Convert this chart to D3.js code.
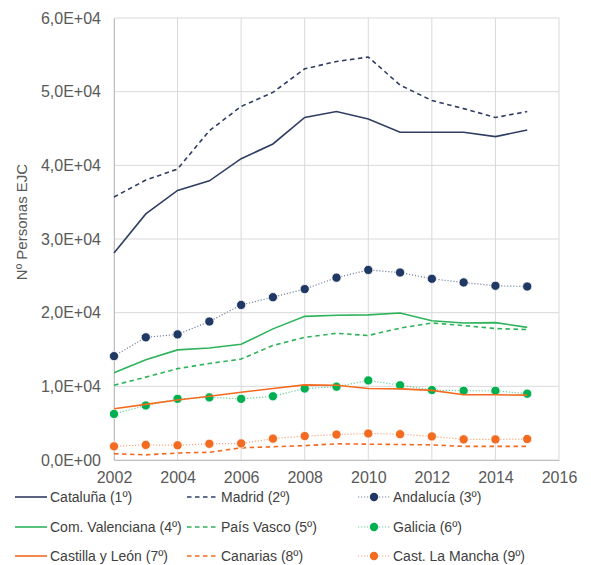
<!DOCTYPE html>
<html>
<head>
<meta charset="utf-8">
<script src="https://cdn.jsdelivr.net/npm/d3@7"></script>
<style>
  body { margin: 0; background: #fff; }
  svg { font-family: "Liberation Sans", Arial, sans-serif; }
</style>
</head>
<body>
<div id="chart"></div>
<script>
const years = [2002, 2003, 2004, 2005, 2006, 2007, 2008, 2009, 2010, 2011, 2012, 2013, 2014, 2015];
const xTicks = [2002, 2004, 2006, 2008, 2010, 2012, 2014, 2016];
const yTicks = [0, 10000, 20000, 30000, 40000, 50000, 60000];

const cataluna = [28100, 33400, 36600, 37900, 40900, 42900, 46500, 47300, 46300, 44500, 44500, 44500, 43900, 44800];
const madrid = [35700, 38000, 39500, 44700, 48000, 49900, 53100, 54100, 54700, 50900, 48800, 47700, 46500, 47300];
const andalucia = [14100, 16650, 17050, 18800, 21050, 22100, 23200, 24750, 25800, 25450, 24600, 24100, 23650, 23550];
const valenciana = [11850, 13600, 14950, 15200, 15700, 17800, 19500, 19650, 19700, 19950, 18900, 18600, 18650, 18000];
const paisVasco = [10150, 11250, 12400, 13100, 13700, 15550, 16650, 17200, 16900, 17900, 18600, 18250, 17850, 17700];
const galicia = [6250, 7400, 8300, 8500, 8300, 8650, 9700, 9950, 10800, 10150, 9500, 9400, 9400, 9000];
const castillaLeon = [6950, 7550, 8150, 8650, 9200, 9700, 10200, 10150, 9700, 9650, 9450, 8850, 8850, 8800];
const canarias = [850, 700, 950, 1050, 1650, 1800, 1950, 2200, 2150, 2100, 2050, 1850, 1850, 1850];
const castLaMancha = [1850, 2050, 2000, 2200, 2250, 2900, 3250, 3450, 3600, 3500, 3200, 2800, 2800, 2850];

const navy = '#2f3e63';
const green = '#2db35a';
const orange = '#f26b21';

const series = [
  { name: 'Cataluña (1º)', values: cataluna, color: navy, style: 'solid' },
  { name: 'Madrid (2º)', values: madrid, color: navy, style: 'dash' },
  { name: 'Andalucía (3º)', values: andalucia, color: '#1f3864', style: 'dot' },
  { name: 'Com. Valenciana (4º)', values: valenciana, color: green, style: 'solid' },
  { name: 'País Vasco (5º)', values: paisVasco, color: green, style: 'dash' },
  { name: 'Galicia (6º)', values: galicia, color: '#00b050', style: 'dot' },
  { name: 'Castilla y León (7º)', values: castillaLeon, color: orange, style: 'solid' },
  { name: 'Canarias (8º)', values: canarias, color: orange, style: 'dash' },
  { name: 'Cast. La Mancha (9º)', values: castLaMancha, color: orange, style: 'dot' }
];

const width = 591;
const height = 565;
const margin = { top: 18, right: 32, bottom: 105, left: 114 };

const svg = d3.select('#chart').append('svg')
  .attr('width', width)
  .attr('height', height);

const x = d3.scaleLinear().domain([2002, 2016]).range([margin.left, width - margin.right]);
const y = d3.scaleLinear().domain([0, 60000]).range([height - margin.bottom, margin.top]);

// grid
svg.append('g')
  .selectAll('line.vg')
  .data(xTicks)
  .join('line')
  .attr('x1', d => x(d)).attr('x2', d => x(d))
  .attr('y1', y(0)).attr('y2', y(60000))
  .attr('stroke', '#d9d9d9').attr('stroke-width', 1);

svg.append('g')
  .selectAll('line.hg')
  .data(yTicks)
  .join('line')
  .attr('x1', x(2002)).attr('x2', x(2016))
  .attr('y1', d => y(d)).attr('y2', d => y(d))
  .attr('stroke', '#d9d9d9').attr('stroke-width', 1);

// axes
const fmtY = d => d === 0 ? '0,0E+00' : (d / 10000).toFixed(1).replace('.', ',') + 'E+04';

const yAxis = svg.append('g')
  .attr('transform', `translate(${margin.left},0)`)
  .call(d3.axisLeft(y).tickValues(yTicks).tickFormat(fmtY).tickSize(0).tickPadding(13));
yAxis.select('.domain').attr('stroke', '#bfbfbf');
yAxis.selectAll('text').attr('font-size', 16).attr('fill', '#595959').attr('font-family', '"Liberation Sans", Arial, sans-serif');

const xAxis = svg.append('g')
  .attr('transform', `translate(0,${y(0)})`)
  .call(d3.axisBottom(x).tickValues(xTicks).tickFormat(d3.format('d')).tickSize(0).tickPadding(12));
xAxis.select('.domain').attr('stroke', '#bfbfbf');
xAxis.selectAll('text').attr('font-size', 16).attr('fill', '#595959').attr('font-family', '"Liberation Sans", Arial, sans-serif');

svg.append('text')
  .attr('transform', `translate(27,${(y(0) + y(60000)) / 2 - 17}) rotate(-90)`)
  .attr('text-anchor', 'middle')
  .attr('font-size', 15)
  .attr('fill', '#595959')
  .text('Nº Personas EJC');

// lines
const line = d3.line()
  .x((d, i) => x(years[i]))
  .y(d => y(d));

function styleLine(sel, s) {
  if (s.style === 'solid') {
    sel.attr('stroke', s.color).attr('stroke-width', 1.6);
  } else if (s.style === 'dash') {
    sel.attr('stroke', s.color).attr('stroke-width', 1.6).attr('stroke-dasharray', '4.5,3.5');
  } else {
    sel.attr('stroke', s.color).attr('stroke-width', 1.2).attr('stroke-dasharray', '1.2,1.8').attr('stroke-opacity', 0.6);
  }
}

series.forEach(s => {
  const p = svg.append('path')
    .datum(s.values)
    .attr('fill', 'none')
    .attr('d', line);
  styleLine(p, s);
  if (s.style === 'dot') {
    svg.append('g')
      .selectAll('circle')
      .data(s.values)
      .join('circle')
      .attr('cx', (d, i) => x(years[i]))
      .attr('cy', d => y(d))
      .attr('r', 4.6)
      .attr('fill', s.color)
      .attr('stroke', '#fff')
      .attr('stroke-width', 0.8);
  }
});

// legend
const colX = [15, 187, 358];
const rowY = [497, 527, 556];
const legend = svg.append('g');
series.forEach((s, i) => {
  const col = i % 3;
  const row = Math.floor(i / 3);
  const lx = colX[col];
  const ly = rowY[row];
  const g = legend.append('g').attr('transform', `translate(${lx},${ly})`);
  const l = g.append('line').attr('x1', 0).attr('x2', 32).attr('y1', 0).attr('y2', 0);
  styleLine(l, s);
  if (s.style === 'dot') {
    g.append('circle').attr('cx', 16).attr('cy', 0).attr('r', 4.2).attr('fill', s.color);
  }
  g.append('text')
    .attr('x', col === 0 ? 35 : (col === 1 ? 34 : 35))
    .attr('dy', '0.35em')
    .attr('font-size', 14)
    .attr('fill', '#404040')
    .text(s.name);
});
</script>
</body>
</html>
